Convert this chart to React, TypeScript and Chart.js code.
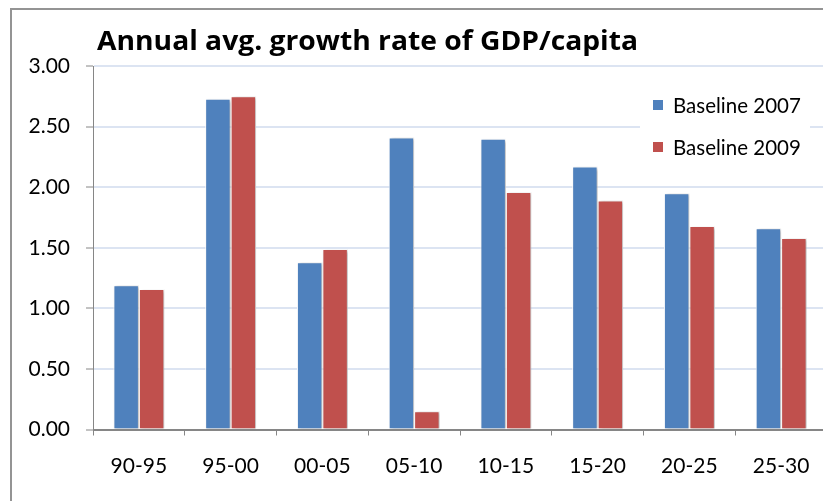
import React, { useEffect, useRef } from "react";
import { Chart, registerables } from "chart.js";

Chart.register(...registerables);

const categories = ["90-95", "95-00", "00-05", "05-10", "10-15", "15-20", "20-25", "25-30"];
const baseline2007 = [1.19, 2.73, 1.38, 2.41, 2.4, 2.17, 1.95, 1.66];
const baseline2009 = [1.16, 2.75, 1.49, 0.15, 1.96, 1.89, 1.68, 1.58];
const seriesNames = ["Baseline 2007", "Baseline 2009"];
const titleText = "Annual avg. growth rate of GDP/capita";
const yTicks = { min: 0, max: 3, step: 0.5 };

const BLUE = "#4F81BD";
const RED = "#C0504D";
const FONT = "Lato, 'Noto Sans', sans-serif";
const TITLE_FONT = "'Open Sans', Lato, sans-serif";

const framePlugin = {
  id: "frame",
  beforeDraw(chart: any) {
    const ctx = chart.ctx;
    ctx.save();
    ctx.fillStyle = "#ffffff";
    ctx.fillRect(0, 0, chart.width, chart.height);
    ctx.fillStyle = "#949494";
    ctx.fillRect(10, 8, 2, chart.height);
    ctx.fillRect(10, 8, chart.width, 2);
    ctx.restore();
  },
};

const shadowPlugin = {
  id: "barShadow",
  beforeDatasetsDraw(chart: any) {
    const ctx = chart.ctx;
    ctx.save();
    ctx.shadowColor = "rgba(0,0,0,0.28)";
    ctx.shadowBlur = 3;
    ctx.shadowOffsetX = 2;
    ctx.shadowOffsetY = 1;
  },
  afterDatasetsDraw(chart: any) {
    chart.ctx.restore();
  },
};

const titlePlugin = {
  id: "customTitle",
  afterDraw(chart: any) {
    const ctx = chart.ctx;
    const a = chart.chartArea;
    ctx.save();
    ctx.fillStyle = "#000";
    ctx.font = `bold 26.5px ${TITLE_FONT}`;
    ctx.textBaseline = "alphabetic";
    ctx.textAlign = "left";
    const w = ctx.measureText(titleText).width;
    const target = 541;
    let sx = w > 0 ? target / w : 1;
    if (sx < 0.85 || sx > 1.2) sx = 1;
    ctx.translate(a.left + 4, a.top - 16);
    ctx.scale(sx, 1);
    ctx.fillText(titleText, 0, 0);
    ctx.restore();
  },
};

const legendPlugin = {
  id: "customLegend",
  afterDatasetsDraw(chart: any) {
    const ctx = chart.ctx;
    const a = chart.chartArea;
    const bx = a.right - 187;
    const by = a.top + 14;
    ctx.save();
    ctx.fillStyle = "#ffffff";
    ctx.fillRect(bx, by, 170, 92);
    ctx.font = `20.5px ${FONT}`;
    ctx.textBaseline = "middle";
    ctx.textAlign = "left";
    chart.data.datasets.forEach((ds: any, i: number) => {
      const cy = by + 25 + i * 42;
      ctx.fillStyle = ds.backgroundColor;
      ctx.fillRect(bx + 13, cy - 5, 10, 10);
      ctx.fillStyle = "#000";
      ctx.fillText(ds.label, bx + 33, cy + 1);
    });
    ctx.restore();
  },
};

export default function App() {
  const ref = useRef<HTMLCanvasElement | null>(null);
  useEffect(() => {
    if (!ref.current) return;
    const chart = new Chart(ref.current, {
      type: "bar",
      data: {
        labels: categories,
        datasets: [
          {
            label: seriesNames[0],
            data: baseline2007,
            backgroundColor: BLUE,
            borderColor: "#ffffff",
            borderWidth: 1,
            categoryPercentage: 0.555,
            barPercentage: 1,
          },
          {
            label: seriesNames[1],
            data: baseline2009,
            backgroundColor: RED,
            borderColor: "#ffffff",
            borderWidth: 1,
            categoryPercentage: 0.555,
            barPercentage: 1,
          },
        ],
      },
      options: {
        responsive: false,
        animation: false,
        layout: { padding: { left: 0, right: 3, top: 66, bottom: 0 } },
        plugins: {
          legend: { display: false },
          title: { display: false },
          tooltip: { enabled: false },
        },
        scales: {
          x: {
            grid: {
              display: true,
              drawOnChartArea: false,
              drawTicks: true,
              tickLength: 6,
              offset: true,
              color: "#868686",
            },
            border: { color: "#868686", width: 1 },
            ticks: {
              color: "#000",
              font: { family: FONT, size: 21 },
              padding: 18,
              maxRotation: 0,
            },
            afterFit(scale: any) {
              scale.height = 71.5;
            },
          },
          y: {
            min: yTicks.min,
            max: yTicks.max,
            grid: {
              color: (c: any) => (c.tick && c.tick.value === 0 ? "#868686" : "#DCE4F2"),
              lineWidth: 2,
              tickLength: 7,
              tickColor: "#868686",
              tickWidth: 1,
            },
            border: { color: "#868686", width: 1 },
            ticks: {
              stepSize: yTicks.step,
              color: "#000",
              font: { family: FONT, size: 21 },
              padding: 16,
              callback: (v: any) => Number(v).toFixed(2),
            },
            afterFit(scale: any) {
              scale.width = 93;
            },
          },
        },
      },
      plugins: [framePlugin, shadowPlugin, titlePlugin, legendPlugin],
    });
    const fonts: any = (document as any).fonts;
    if (fonts && fonts.load) {
      Promise.all([fonts.load(`21px Lato`), fonts.load(`bold 26.5px "Open Sans"`)]).then(() => {
        try {
          chart.update();
        } catch (e) {}
      });
    }
    return () => chart.destroy();
  }, []);

  return (
    <div style={{ position: "fixed", left: 0, top: 0, width: 823, height: 501, overflow: "hidden", background: "#fff" }}>
      <canvas ref={ref} width={830} height={501} style={{ width: 830, height: 501, display: "block" }} />
    </div>
  );
}
